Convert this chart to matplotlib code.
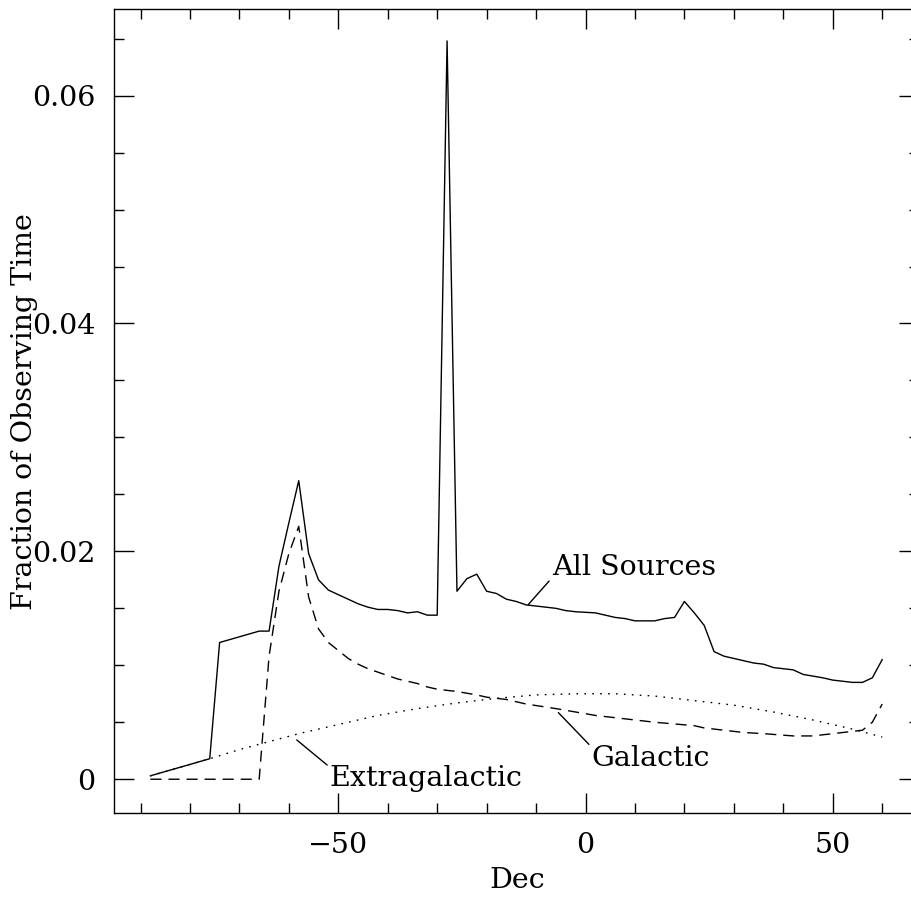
import matplotlib
matplotlib.use("Agg")
import matplotlib.pyplot as plt
from matplotlib.ticker import MultipleLocator, FuncFormatter

# All Sources (solid)
all_dec = [-88, -76, -74, -66, -64, -62, -60, -58, -56, -54, -52, -50, -48, -46,
           -44, -42, -40, -38, -36, -34, -32, -30, -28, -26, -24, -22, -20, -18,
           -16, -14, -12, -8, -6, -4, -2, 2, 6, 8, 10, 14, 16, 18, 20, 22, 24,
           26, 28, 30, 34, 36, 38, 42, 44, 48, 50, 54, 56, 58, 60]
all_frac = [0.0003, 0.0018, 0.0120, 0.0130, 0.0130, 0.0187, 0.0225, 0.0262, 0.0198,
            0.0175, 0.0166, 0.0162, 0.0158, 0.0154, 0.0151, 0.0149, 0.0149, 0.0148,
            0.0146, 0.0147, 0.0144, 0.0144, 0.0648, 0.0165, 0.0176, 0.0180, 0.0165,
            0.0163, 0.0158, 0.0156, 0.0153, 0.0151, 0.0150, 0.0148, 0.0147, 0.0146,
            0.0142, 0.0141, 0.0139, 0.0139, 0.0141, 0.0142, 0.0156, 0.0146, 0.0135,
            0.0112, 0.0108, 0.0106, 0.0102, 0.0101, 0.0098, 0.0096, 0.0092, 0.0089,
            0.0087, 0.0085, 0.0085, 0.0089, 0.0105]

# Galactic (dashed)
gal_dec = [-88, -66, -64, -62, -60, -58, -56, -54, -52, -50, -48, -46, -44, -42,
           -40, -38, -36, -34, -32, -30, -26, -22, -20, -16, -12, -6, -2, 2, 6,
           14, 22, 24, 28, 32, 36, 42, 46, 50, 54, 56, 58, 60]
gal_frac = [0.0, 0.0, 0.0108, 0.0165, 0.0198, 0.0222, 0.0160, 0.0132, 0.0120,
            0.0113, 0.0106, 0.0101, 0.0097, 0.0094, 0.0091, 0.0088, 0.0086, 0.0084,
            0.0081, 0.0079, 0.0077, 0.0074, 0.0072, 0.0070, 0.0066, 0.0062, 0.0059,
            0.0056, 0.0054, 0.0050, 0.0047, 0.0045, 0.0043, 0.0041, 0.0040, 0.0038,
            0.0038, 0.0040, 0.0042, 0.0043, 0.0050, 0.0066]

# Extragalactic (dotted)
ext_dec = [-88, -80, -76, -70, -64, -58, -50, -42, -34, -26, -18, -10, -2, 6,
           14, 22, 30, 38, 46, 54, 60]
ext_frac = [0.0003, 0.0013, 0.0018, 0.0026, 0.0033, 0.0040, 0.0048, 0.0056, 0.0062,
            0.0067, 0.0071, 0.0074, 0.0075, 0.0075, 0.0073, 0.0069, 0.0065, 0.0059,
            0.0052, 0.0044, 0.0037]

FONT = "DejaVu Serif"
FS = 20.5
plt.rcParams["font.family"] = FONT

fig = plt.figure(figsize=(9.12, 8.98), dpi=100, facecolor="white")
ax = fig.add_axes([114.3 / 912, 84.7 / 898, 805 / 912, 804.3 / 898])

ax.plot(all_dec, all_frac, color="black", lw=1.0)
ax.plot(gal_dec, gal_frac, color="black", lw=1.0, dashes=(8, 5))
ax.plot(ext_dec, ext_frac, color="black", lw=1.0, dashes=(1.2, 4.5))

ax.set_xlim(-95.3, 67.5)
ax.set_ylim(-0.00299, 0.0676)

ax.xaxis.set_major_locator(MultipleLocator(50))
ax.xaxis.set_minor_locator(MultipleLocator(10))
ax.yaxis.set_major_locator(MultipleLocator(0.02))
ax.yaxis.set_minor_locator(MultipleLocator(0.005))
ax.yaxis.set_major_formatter(FuncFormatter(lambda v, p: "0" if abs(v) < 1e-9 else f"{v:.2f}"))
ax.xaxis.set_major_formatter(FuncFormatter(lambda v, p: f"{v:.0f}".replace("-", "\u2212")))

ax.tick_params(which="both", direction="in", top=True, right=True, color="black",
               labelsize=FS, width=1.0)
ax.tick_params(which="major", length=14.5, pad=13.5)
ax.tick_params(which="minor", length=7)
for s in ax.spines.values():
    s.set_linewidth(1.0)

ax.set_xlabel("Dec", fontsize=FS, labelpad=6)
ax.set_ylabel("Fraction of Observing Time", fontsize=FS)
ax.yaxis.set_label_coords(-0.095, 0.5)

# curve labels with leader lines
ax.annotate("All Sources", xy=(-11.6, 0.01532), xytext=(-6.8, 0.01796),
            fontsize=FS, va="baseline", ha="left",
            arrowprops=dict(arrowstyle="-", lw=1.0, color="black",
                            shrinkA=0, shrinkB=0, relpos=(0, 0.1)))
ax.annotate("Galactic", xy=(-5.5, 0.00585), xytext=(1.25, 0.0012),
            fontsize=FS, va="baseline", ha="left",
            arrowprops=dict(arrowstyle="-", lw=1.0, color="black",
                            shrinkA=0, shrinkB=0, relpos=(0, 0.9)))
ax.annotate("Extragalactic", xy=(-58.4, 0.00345), xytext=(-51.7, -0.00056),
            fontsize=FS, va="baseline", ha="left",
            arrowprops=dict(arrowstyle="-", lw=1.0, color="black",
                            shrinkA=0, shrinkB=0, relpos=(0, 0.9)))

fig.savefig("out.png", dpi=100, facecolor="white")
